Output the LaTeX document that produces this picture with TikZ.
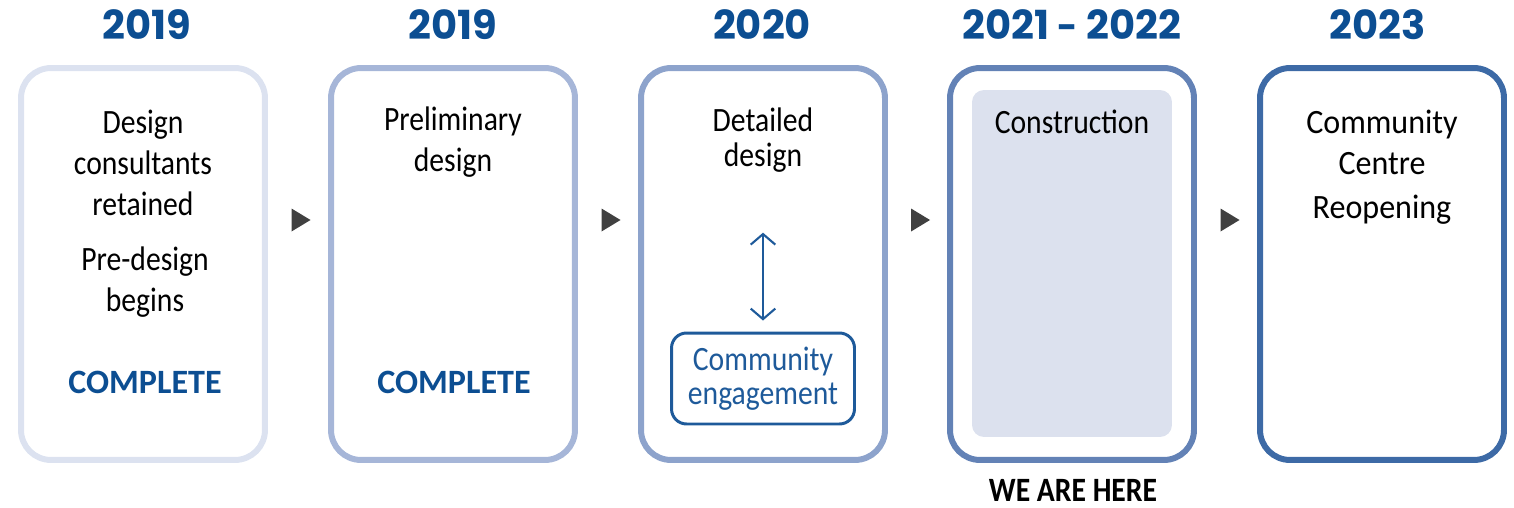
\documentclass[tikz,border=0pt]{standalone}
\usepackage{fontspec}
\setmainfont{Carlito}
\newfontfamily\narrowfont{Carlito}[FakeStretch=0.87]
\newfontfamily\widefont{Carlito}[FakeStretch=0.94]
\newfontfamily\yearfont{Poppins}
\usetikzlibrary{shapes.geometric, arrows.meta, calc}

\definecolor{stageA}{HTML}{DCE2F0}
\definecolor{stageB}{HTML}{A6B6D8}
\definecolor{stageC}{HTML}{8DA3CC}
\definecolor{stageD}{HTML}{6382B6}
\definecolor{stageE}{HTML}{3D6AA6}
\definecolor{yearblue}{HTML}{0C4E92}
\definecolor{linkblue}{HTML}{1E5A9A}
\definecolor{nowfill}{HTML}{DCE1EE}
\definecolor{pointer}{HTML}{404040}

\begin{document}
\begin{tikzpicture}[x=0.02cm, y=-0.02cm,
  stage/.style={draw, rounded corners=0.6cm, line width=3.4pt, minimum width=4.88cm, minimum height=7.84cm, inner sep=0pt},
  year/.style={text=yearblue, font=\yearfont\bfseries\fontsize{22.8}{26}\selectfont},
  label/.style={align=center, inner sep=0pt, font=\narrowfont\fontsize{19.4}{23.3}\selectfont},
  done/.style={text=yearblue, inner sep=0pt, font=\bfseries\fontsize{19.4}{23}\selectfont},
  pointer/.style={isosceles triangle, isosceles triangle stretches, fill=pointer, inner sep=0pt, minimum width=0.46cm, minimum height=0.38cm}]
  \useasboundingbox (0,0) rectangle (1514,507);

  % stage frames
  \node[stage, draw=stageA] (s1) at (143, 264) {};
  \node[stage, draw=stageB] (s2) at (453, 264) {};
  \node[stage, draw=stageC] (s3) at (763, 264) {};
  \node[stage, draw=stageD] (s4) at (1072, 264) {};
  \node[stage, draw=stageE] (s5) at (1382, 264) {};
  \node[fill=nowfill, rounded corners=0.24cm, minimum width=4cm, minimum height=6.94cm, inner sep=0pt] (now) at (1072, 263.5) {};

  % years
  \node[year] (y1) at (147, 25) {2019};
  \node[year] (y2) at (453, 25) {2019};
  \node[year] (y3) at (762, 25) {2020};
  \node[year] (y4) at (1072, 25) {2021 {\fontsize{20}{26}\selectfont-} 2022};
  \node[year] (y5) at (1378, 25) {2023};

  % texts
  \node[label] (consult) at (143, 163) {Design\\consultants\\retained};
  \node[label] (predesign) at (145, 282) {Pre-design\\begins};
  \node[done] (done1) at (145, 382) {COMPLETE};
  \node[label] (prelim) at (453, 142) {Preliminary\\design};
  \node[done] (done2) at (454, 382) {COMPLETE};
  \node[label, font=\narrowfont\fontsize{19.4}{20}\selectfont] (detail) at (763, 140) {Detailed\\design};
  \node[draw=linkblue, line width=1.7pt, rounded corners=0.3cm, minimum width=3.66cm, minimum height=1.82cm, align=center, text=linkblue, inner sep=0pt, font=\narrowfont\fontsize{19.4}{19.4}\selectfont] (engage) at (763, 378.5) {Community\\engagement};
  \node[label] (build) at (1072, 122) {Construction};
  \node[align=center, inner sep=0pt, font=\widefont\fontsize{19.4}{23.3}\selectfont] (reopen) at (1382, 167) {Community\\Centre\\[2pt]Reopening};
  \node[font=\narrowfont\bfseries\fontsize{19.4}{23}\selectfont, inner sep=0pt] (here) at (1073, 490) {WE ARE HERE};

  % pointers between stages
  \node[pointer] (p1) at ($(s1.east)!0.5!(s2.west)+(0,-44)$) {};
  \node[pointer] (p2) at ($(s2.east)!0.5!(s3.west)+(0,-44)$) {};
  \node[pointer] (p3) at ($(s3.east)!0.5!(s4.west)+(0,-44)$) {};
  \node[pointer] (p4) at ($(s4.east)!0.5!(s5.west)+(0,-44)$) {};

  \draw[linkblue, line width=1.2pt, {Straight Barb[length=6pt, width=14pt]}-{Straight Barb[length=6pt, width=14pt]}, shorten <=1.2cm, shorten >=0.22cm] (detail.south) -- (engage.north);
\end{tikzpicture}
\end{document}
